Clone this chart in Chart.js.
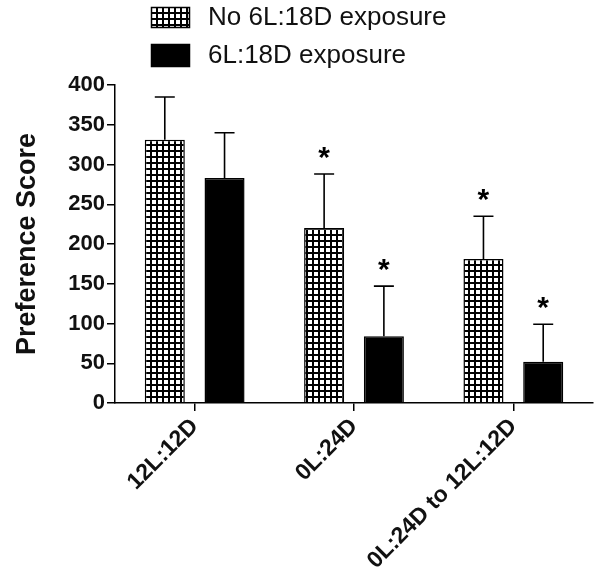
<!DOCTYPE html>
<html>
<head>
<meta charset="utf-8">
<script src="https://cdn.jsdelivr.net/npm/chart.js@4.4.1/dist/chart.umd.min.js"></script>
<style>
  html, body { margin: 0; padding: 0; background: #fff; }
  #wrap { width: 600px; height: 578px; position: relative; }
</style>
</head>
<body>
<div id="wrap"><canvas id="chart"></canvas></div>
<script>
// data
const categories = ["12L:12D", "0L:24D", "0L:24D to 12L:12D"];
const seriesNames = ["No 6L:18D exposure", "6L:18D exposure"];
const noExposure = [331, 220, 181];
const noExposureErr = [54, 68, 54];
const noExposureSig = [false, true, true];
const exposure = [283, 84, 52];
const exposureErr = [57, 63, 47];
const exposureSig = [false, true, true];
const yMin = 0, yMax = 400, yStep = 50;

const FONT = '"Liberation Sans", Arial, Helvetica, sans-serif';

// grid hatch pattern for the "no exposure" bars
function makeHatch() {
  const c = document.createElement("canvas");
  c.width = 6; c.height = 6;
  const g = c.getContext("2d");
  g.fillStyle = "#fff";
  g.fillRect(0, 0, 6, 6);
  g.fillStyle = "#000";
  g.fillRect(0, 0, 6, 2);
  g.fillRect(0, 0, 2, 6);
  return g.createPattern(c, "repeat");
}
const hatch = makeHatch();

// error bars (upper only) + significance stars
const errorBarPlugin = {
  id: "errorBars",
  afterDatasetsDraw(chart) {
    const ctx = chart.ctx;
    const y = chart.scales.y;
    chart.data.datasets.forEach((ds, i) => {
      const meta = chart.getDatasetMeta(i);
      meta.data.forEach((bar, j) => {
        const top = y.getPixelForValue(ds.data[j] + ds.err[j]);
        ctx.save();
        ctx.strokeStyle = "#000";
        ctx.lineWidth = 1.6;
        ctx.beginPath();
        ctx.moveTo(bar.x, bar.y);
        ctx.lineTo(bar.x, top);
        ctx.moveTo(bar.x - 10, top);
        ctx.lineTo(bar.x + 10, top);
        ctx.stroke();
        if (ds.sig[j]) {
          ctx.fillStyle = "#000";
          ctx.font = "bold 30px " + FONT;
          ctx.textAlign = "center";
          ctx.textBaseline = "alphabetic";
          ctx.fillText("*", bar.x, top - 7);
        }
        ctx.restore();
      });
    });
  }
};

// legend drawn by hand, stacked like the original
const legendPlugin = {
  id: "stackLegend",
  afterDraw(chart) {
    const ctx = chart.ctx;
    const rows = [
      { y: 7, h: 21, ty: 18 },
      { y: 44, h: 23, ty: 56 }
    ];
    chart.data.datasets.forEach((ds, i) => {
      const r = rows[i];
      ctx.save();
      ctx.fillStyle = ds.backgroundColor;
      ctx.fillRect(151, r.y, 39, r.h);
      ctx.strokeStyle = "#000";
      ctx.lineWidth = 1.5;
      ctx.strokeRect(151.5, r.y + 0.5, 38, r.h - 1);
      ctx.fillStyle = "#111";
      ctx.font = "26px " + FONT;
      ctx.textBaseline = "middle";
      ctx.fillText(ds.label, 208, r.ty);
      ctx.restore();
    });
  }
};

new Chart(document.getElementById("chart"), {
  type: "bar",
  data: {
    labels: categories,
    datasets: [
      {
        label: seriesNames[0],
        data: noExposure,
        err: noExposureErr,
        sig: noExposureSig,
        backgroundColor: hatch,
        borderColor: "#000",
        borderWidth: 1.5
      },
      {
        label: seriesNames[1],
        data: exposure,
        err: exposureErr,
        sig: exposureSig,
        backgroundColor: "#000",
        borderColor: "#000",
        borderWidth: 1.5
      }
    ]
  },
  options: {
    responsive: true,
    maintainAspectRatio: false,
    animation: false,
    categoryPercentage: 0.75,
    barPercentage: 0.67,
    layout: { padding: { top: 85, right: 7, left: 0, bottom: 0 } },
    plugins: {
      legend: { display: false },
      tooltip: { enabled: false }
    },
    scales: {
      x: {
        afterFit: (s) => { s.height = 175; },
        grid: {
          offset: false,
          drawOnChartArea: false,
          drawTicks: true,
          tickLength: 8,
          color: "#000",
          lineWidth: 1.5
        },
        border: { display: true, color: "#000", width: 1.5 },
        ticks: {
          color: "#111",
          font: { family: FONT, size: 23, weight: "bold" },
          maxRotation: 45,
          minRotation: 45,
          padding: 2
        }
      },
      y: {
        min: yMin,
        max: yMax,
        afterFit: (s) => { s.width = 115; },
        grid: {
          drawOnChartArea: false,
          drawTicks: true,
          tickLength: 8,
          color: "#000",
          lineWidth: 1.5
        },
        border: { display: true, color: "#000", width: 1.5 },
        ticks: {
          stepSize: yStep,
          color: "#111",
          font: { family: FONT, size: 22, weight: "bold" },
          padding: 2
        },
        title: {
          display: true,
          text: "Preference Score",
          color: "#111",
          font: { family: FONT, size: 27, weight: "bold" },
          padding: { top: 11, bottom: 0 }
        }
      }
    }
  },
  plugins: [errorBarPlugin, legendPlugin]
});
</script>
</body>
</html>
